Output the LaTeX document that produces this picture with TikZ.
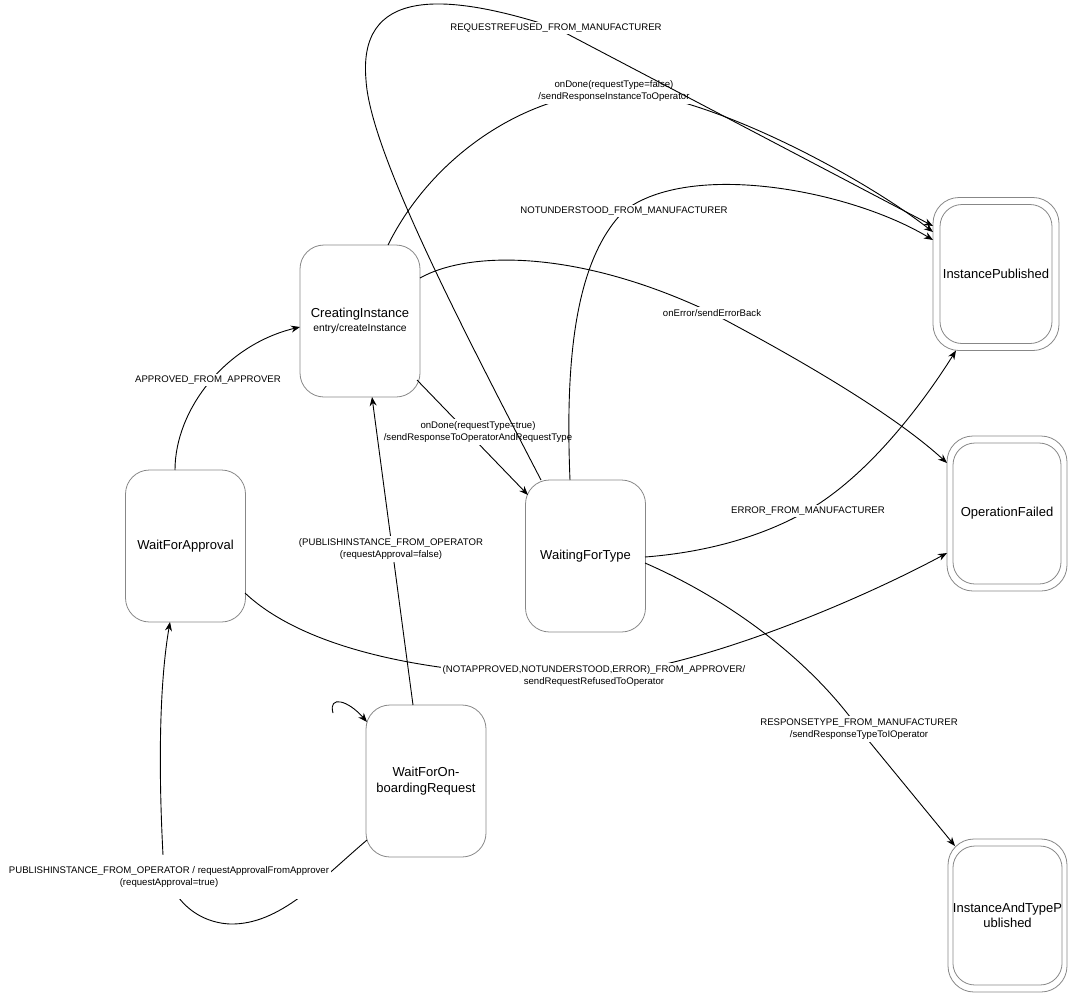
\documentclass[tikz,border=0pt]{standalone}
\usepackage{fontspec}
\setmainfont{Liberation Sans}
\usetikzlibrary{arrows.meta,calc}
\definecolor{nodegray}{RGB}{135,135,135}
\begin{document}
\begin{tikzpicture}[x=1pt,y=-1pt,
  state/.style={draw=nodegray, line width=0.8pt, rounded corners=24pt,
    minimum width=120pt, minimum height=152pt, inner sep=0pt, align=center,
    font=\fontsize{13}{16}\selectfont},
  finalout/.style={draw=nodegray, line width=0.8pt, rounded corners=26pt, inner sep=0pt},
  finalin/.style={draw=nodegray, line width=0.8pt, rounded corners=22pt, inner sep=0pt,
    align=center, font=\fontsize{13}{15}\selectfont},
  lbl/.style={fill=white, inner sep=2pt, align=center, font=\fontsize{9.6}{12.5}\selectfont},
  edge/.style={draw=black, line width=0.9pt, -{Stealth[length=9pt,width=7pt]}},
  plain/.style={draw=black, line width=0.9pt}]
\useasboundingbox (0,0) rectangle (1068,993);

% states
\node[state] (ci) at (360,321) {CreatingInstance\\[-2pt]{\fontsize{10.3}{12}\selectfont entry/createInstance}};
\node[state] (wfa) at (185.5,546) {WaitForApproval};
\node[state] (wft) at (585.5,556) {WaitingForType};
\node[state] (wfo) at (426,781) {WaitForOn-\\boardingRequest};

\node[finalout, minimum width=126pt, minimum height=153pt] (ip) at (996,274) {};
\node[finalin, minimum width=112pt, minimum height=139pt] (ipi) at (ip) {InstancePublished};
\node[finalout, minimum width=120pt, minimum height=155pt] (of) at (1007,513.5) {};
\node[finalin, minimum width=108pt, minimum height=141pt] (ofi) at (of) {OperationFailed};
\node[finalout, minimum width=119pt, minimum height=153pt] (iatp) at (1007.5,915.5) {};
\node[finalin, minimum width=108pt, minimum height=139pt] (iatpi) at (iatp) {InstanceAndTypeP\\ublished};

% onDone(requestType=true)
\draw[edge] ($(ci)+(57,59)$) -- ($(wft)+(-57.5,-61)$);
\node[lbl] (l2) at (478,432) {onDone(requestType=true)\\/sendResponseToOperatorAndRequestType};

% APPROVED_FROM_APPROVER
\draw[edge] ($(wfa)+(-10.5,-76)$) .. controls (175,410) and (225,345) .. ($(ci)+(-60,6)$);
\node[lbl] (l1) at (208,380) {APPROVED\_FROM\_APPROVER};

% onDone(requestType=false)
\draw[edge] ($(ci)+(28,-76)$) .. controls (430,160) and (520,95) .. (614,91)
  .. controls (700,90) and (860,175) .. ($(ip)+(-63,-42)$);
\node[lbl] (l3) at (614,91) {onDone(requestType=false)\\/sendResponseInstanceToOperator};

% REQUESTREFUSED_FROM_MANUFACTURER
\draw[edge] ($(wft)+(-44.5,-76)$) .. controls (458,320) and (370,150) .. (366,80)
  .. controls (358,-10) and (440,-10) .. (556,28) -- ($(ip)+(-63,-48)$);
\node[lbl] (l4) at (556,28) {REQUESTREFUSED\_FROM\_MANUFACTURER};

% NOTUNDERSTOOD_FROM_MANUFACTURER
\draw[edge] ($(wft)+(-15.5,-76)$) .. controls (565,360) and (575,260) .. (624,211)
  .. controls (690,160) and (850,190) .. ($(ip)+(-63,-34)$);
\node[lbl] (l5) at (624,211) {NOTUNDERSTOOD\_FROM\_MANUFACTURER};

% onError/sendErrorBack
\draw[edge] ($(ci)+(60,-43)$) .. controls (470,250) and (580,250) .. (712,313)
  .. controls (820,370) and (900,420) .. ($(of)+(-60,-50.5)$);
\node[lbl] (l6) at (712,313) {onError/sendErrorBack};

% ERROR_FROM_MANUFACTURER
\draw[edge] ($(wft)+(59.5,1)$) .. controls (710,552) and (765,535) .. (807,511)
  .. controls (870,475) and (925,400) .. ($(ip)+(-40,76.5)$);
\node[lbl] (l7) at (808,511) {ERROR\_FROM\_MANUFACTURER};

% (NOTAPPROVED,...)_FROM_APPROVER
\draw[edge] ($(wfa)+(59.5,47)$) .. controls (300,645) and (420,678) .. (594,676)
  .. controls (700,668) and (860,600) .. ($(of)+(-60,39.5)$);
\node[lbl] (l8) at (594,676) {(NOTAPPROVED,NOTUNDERSTOOD,ERROR)\_FROM\_APPROVER/\\sendRequestRefusedToOperator};

% RESPONSETYPE_FROM_MANUFACTURER
\draw[edge] ($(wft)+(59.5,7)$) .. controls (730,600) and (810,660) .. (859,729)
  -- ($(iatp)+(-52.5,-69.5)$);
\node[lbl] (l9) at (859,729) {RESPONSETYPE\_FROM\_MANUFACTURER\\/sendResponseTypeToIOperator};

% PUBLISHINSTANCE (requestApproval=false)
\draw[edge] ($(wfo)+(-13,-76)$) -- ($(ci)+(12,76)$);
\node[lbl] (l10) at (391,549) {(PUBLISHINSTANCE\_FROM\_OPERATOR\\(requestApproval=false)};

% self loop
\coordinate (sl) at (333,713);
\draw[edge] (sl) .. controls (328,695) and (348,700) .. ($(wfo)+(-59,-59)$);

% PUBLISHINSTANCE (requestApproval=true)
\draw[edge] ($(wfo)+(-59,59)$) .. controls (320,880) and (280,925) .. (230,924)
  .. controls (190,922) and (165,890) .. (163,855)
  .. controls (158,760) and (160,680) .. ($(wfa)+(-15.5,76)$);
\node[lbl, minimum height=44pt] (l11) at (169,877) {PUBLISHINSTANCE\_FROM\_OPERATOR / requestApprovalFromApprover\\(requestApproval=true)};

\end{tikzpicture}
\end{document}
